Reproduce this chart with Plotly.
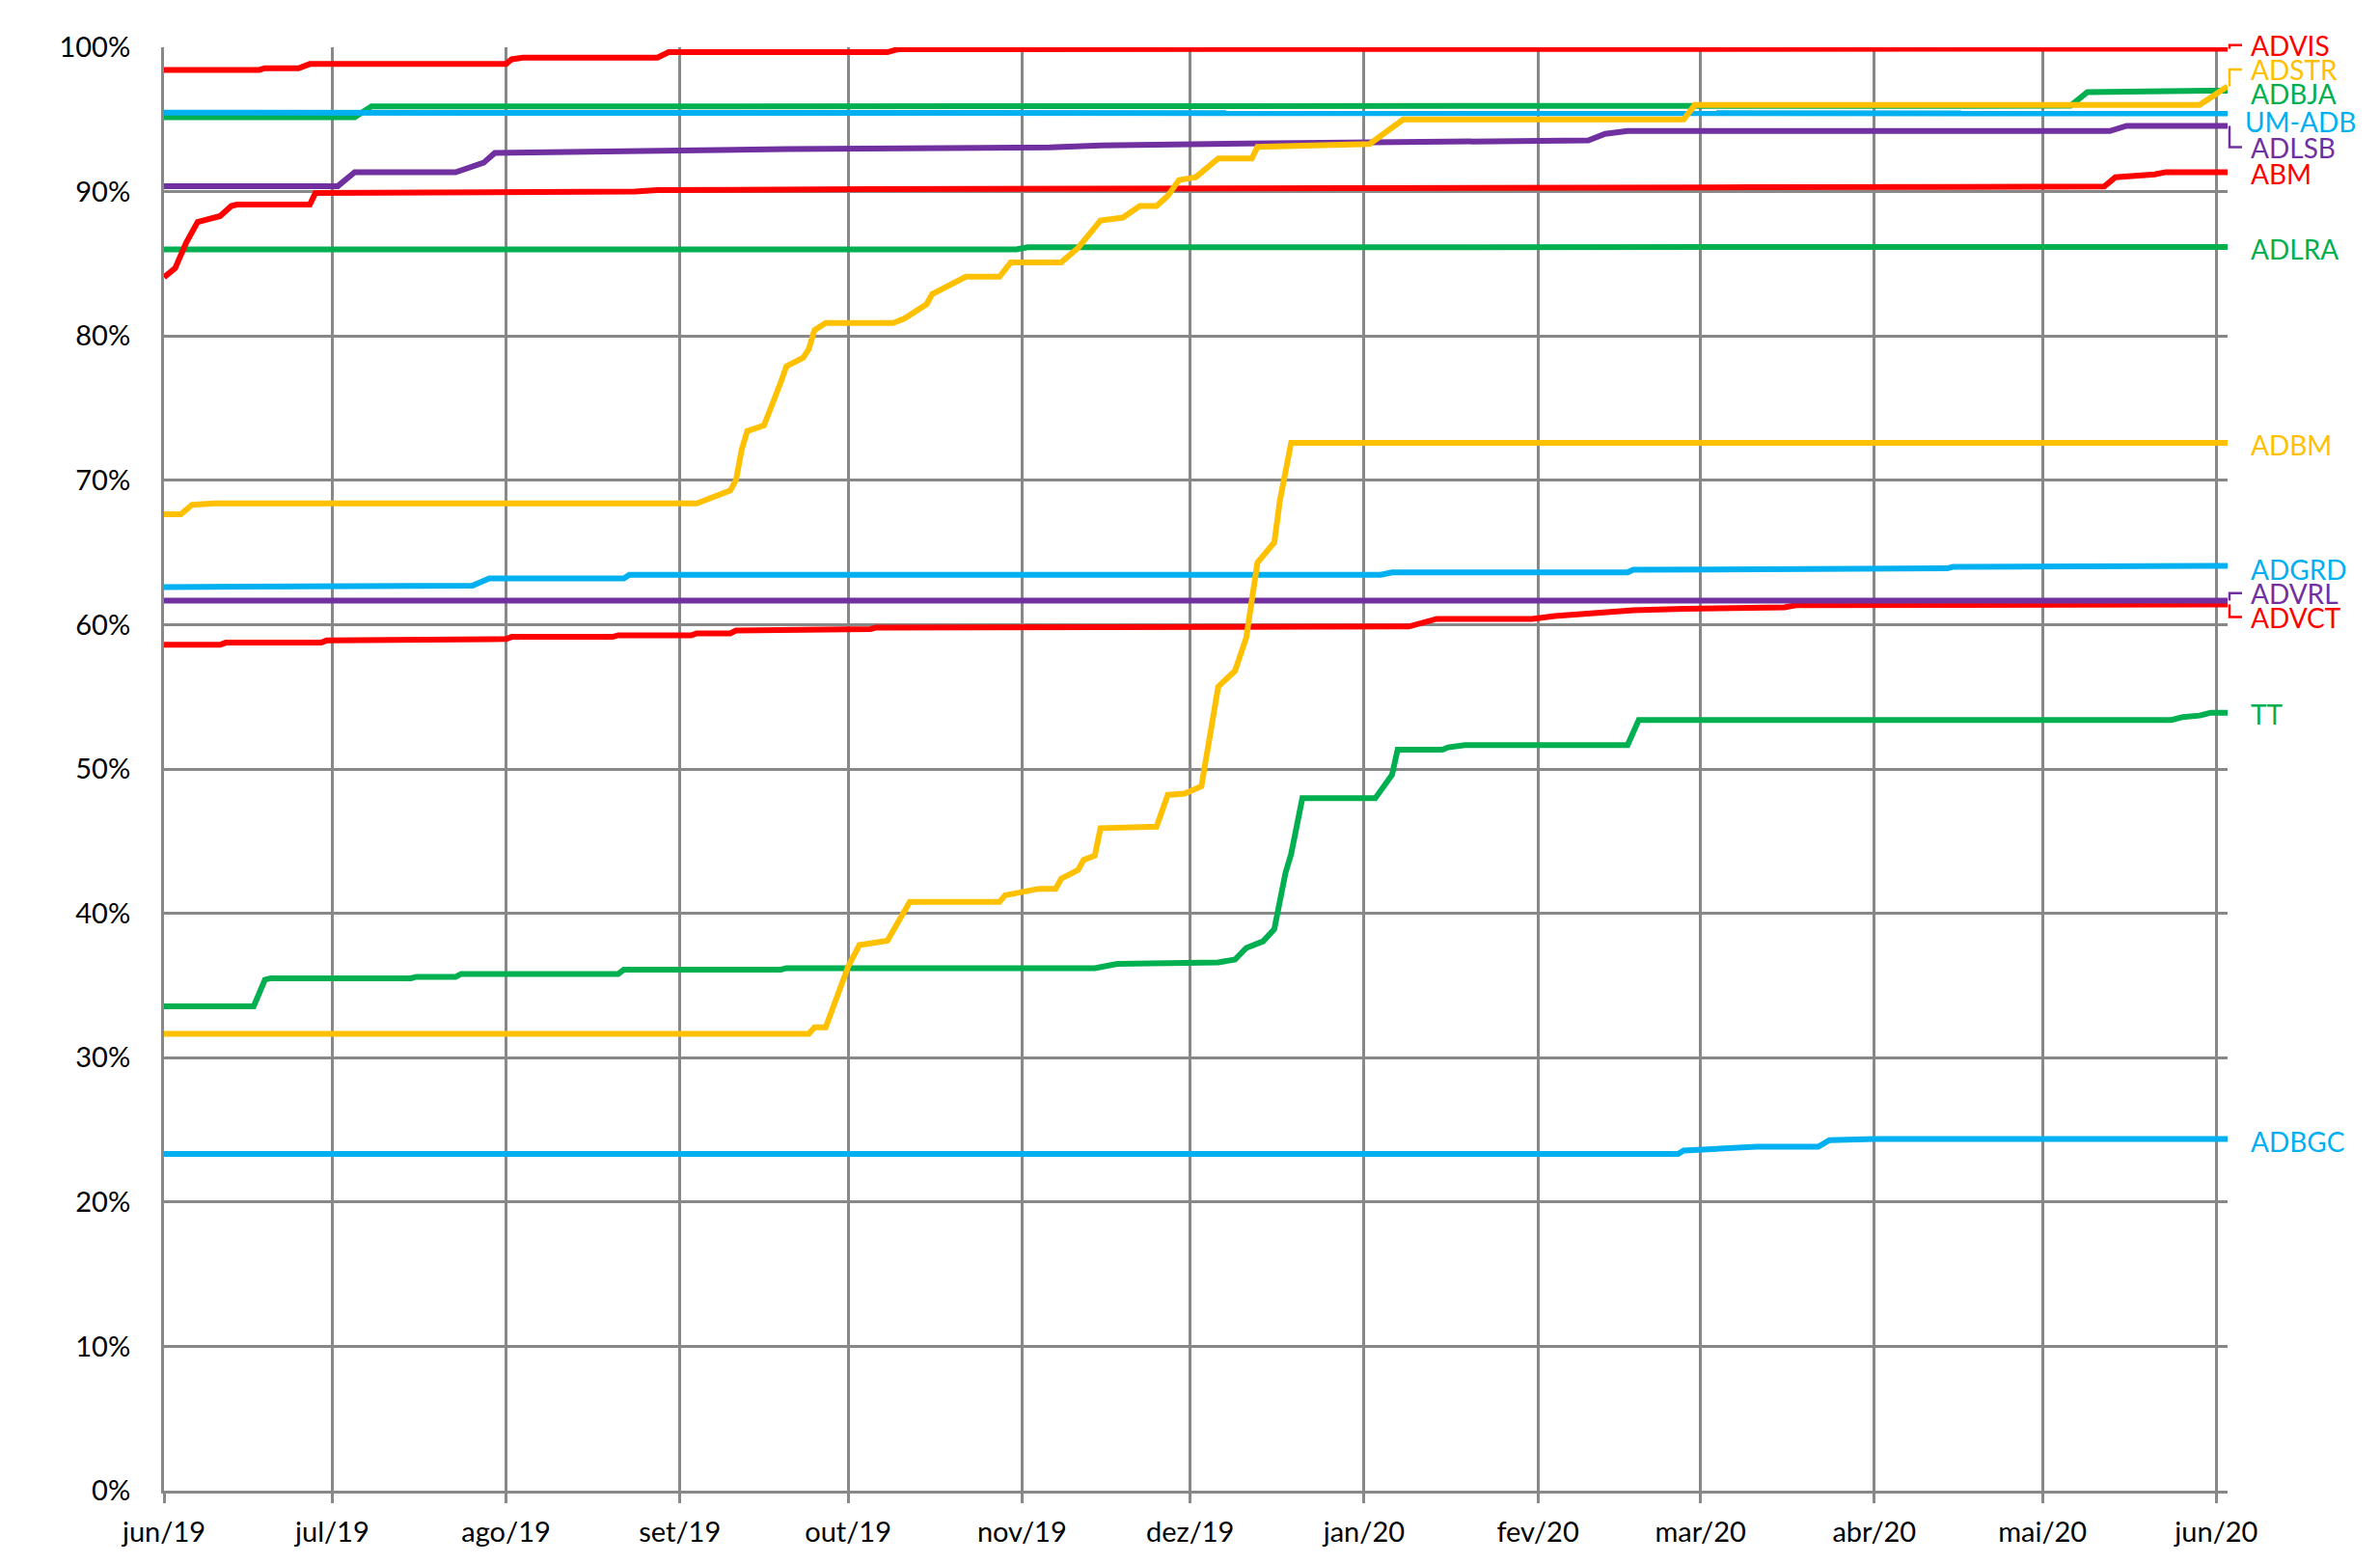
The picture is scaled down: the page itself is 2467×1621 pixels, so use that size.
import plotly.graph_objects as go

# --- data (percent), breakpoints ---
advis_x = ["2019-06-01", "2019-06-18", "2019-06-19", "2019-06-25", "2019-06-27", "2019-08-01",
           "2019-08-02", "2019-08-04", "2019-08-28", "2019-08-30", "2019-10-08", "2019-10-10",
           "2020-06-03"]
advis_y = [98.43, 98.43, 98.55, 98.55, 98.84, 98.84, 99.17, 99.28, 99.28, 99.66, 99.66, 99.87, 99.9]

adstr_x = ["2019-06-01", "2019-06-04", "2019-06-06", "2019-06-10", "2019-09-04", "2019-09-10",
           "2019-09-11", "2019-09-12", "2019-09-13", "2019-09-16", "2019-09-17", "2019-09-18",
           "2019-09-19", "2019-09-20", "2019-09-23", "2019-09-24", "2019-09-25", "2019-09-27",
           "2019-10-09", "2019-10-11", "2019-10-15", "2019-10-16", "2019-10-22", "2019-10-28",
           "2019-10-30", "2019-11-08", "2019-11-11", "2019-11-15", "2019-11-19", "2019-11-22",
           "2019-11-25", "2019-11-27", "2019-11-29", "2019-12-02", "2019-12-06", "2019-12-12",
           "2019-12-13", "2020-01-02", "2020-01-05", "2020-01-08", "2020-02-27", "2020-02-29",
           "2020-05-29", "2020-06-03"]
adstr_y = [67.65, 67.65, 68.3, 68.4, 68.4, 69.3,
           70.0, 72.1, 73.4, 73.8, 74.8, 75.7,
           76.8, 77.9, 78.5, 79.1, 80.4, 80.9,
           80.9, 81.2, 82.2, 82.9, 84.1, 84.1,
           85.1, 85.1, 86.1, 88.0, 88.2, 89.0,
           89.0, 89.7, 90.8, 91.0, 92.3, 92.3,
           93.1, 93.3, 94.1, 95.0, 95.0, 96.0,
           96.0, 97.3]

adbja_x = ["2019-06-01", "2019-07-05", "2019-07-08", "2020-05-06", "2020-05-09", "2020-05-31",
           "2020-06-03"]
adbja_y = [95.15, 95.15, 95.9, 95.95, 96.9, 96.9, 97.0]

umadb_x = ["2019-06-01", "2020-06-03"]
umadb_y = [95.47, 95.42]

adlsb_x = ["2019-06-01", "2019-07-02", "2019-07-05", "2019-07-23", "2019-07-28", "2019-07-30",
           "2019-08-22", "2019-09-20", "2019-11-06", "2019-11-15", "2019-12-11", "2020-01-02",
           "2020-02-10", "2020-02-13", "2020-02-17", "2020-05-13", "2020-05-16", "2020-06-03"]
adlsb_y = [90.38, 90.38, 91.34, 91.34, 92.0, 92.68,
           92.8, 92.95, 93.06, 93.2, 93.33, 93.44,
           93.55, 94.0, 94.2, 94.2, 94.56, 94.56]

abm_x = ["2019-06-01", "2019-06-03", "2019-06-04", "2019-06-05", "2019-06-07", "2019-06-11",
         "2019-06-13", "2019-06-14", "2019-06-27", "2019-06-28", "2019-08-24", "2019-08-28",
         "2019-10-05", "2019-11-26", "2020-03-10", "2020-05-12", "2020-05-14", "2020-05-21",
         "2020-05-23", "2020-06-03"]
abm_y = [84.07, 84.7, 85.6, 86.5, 87.9, 88.3,
         89.0, 89.1, 89.1, 89.9, 90.0, 90.1,
         90.18, 90.25, 90.3, 90.35, 91.0, 91.2,
         91.35, 91.35]

adlra_x = ["2019-06-01", "2019-10-31", "2019-11-02", "2020-06-03"]
adlra_y = [86.0, 86.0, 86.15, 86.16]

adbm_x = ["2019-06-01", "2019-09-24", "2019-09-25", "2019-09-27", "2019-10-01", "2019-10-03",
          "2019-10-08", "2019-10-12", "2019-10-28", "2019-10-29", "2019-11-04", "2019-11-07",
          "2019-11-08", "2019-11-11", "2019-11-12", "2019-11-14", "2019-11-15", "2019-11-21",
          "2019-11-25", "2019-11-27", "2019-11-30", "2019-12-03", "2019-12-04", "2019-12-06",
          "2019-12-09", "2019-12-11", "2019-12-13", "2019-12-16", "2019-12-17", "2019-12-19",
          "2020-06-03"]
adbm_y = [31.65, 31.65, 32.1, 32.1, 36.3, 37.8,
          38.1, 40.8, 40.8, 41.25, 41.7, 41.7,
          42.4, 43.0, 43.7, 44.0, 45.9, 45.9,
          46.0, 48.2, 48.3, 48.8, 51.0, 55.7,
          56.8, 59.1, 64.3, 65.7, 68.6, 72.6,
          72.6]

adgrd_x = ["2019-06-01", "2019-06-18", "2019-06-19", "2019-07-26", "2019-07-29", "2019-08-22",
           "2019-08-23", "2020-01-04", "2020-01-06", "2020-02-17", "2020-02-18", "2020-03-18",
           "2020-03-19", "2020-04-14", "2020-04-15", "2020-05-12", "2020-05-13", "2020-06-03"]
adgrd_y = [62.6, 62.6, 62.7, 62.7, 63.2, 63.2,
           63.45, 63.45, 63.62, 63.62, 63.8, 63.8,
           63.9, 63.9, 64.0, 64.0, 64.07, 64.07]

advrl_x = ["2019-06-01", "2020-06-03"]
advrl_y = [61.66, 61.66]

advct_x = ["2019-06-01", "2019-06-11", "2019-06-12", "2019-06-29", "2019-06-30", "2019-07-09",
           "2019-07-10", "2019-08-01", "2019-08-02", "2019-08-20", "2019-08-21", "2019-09-03",
           "2019-09-04", "2019-09-10", "2019-09-11", "2019-09-23", "2019-09-24", "2019-10-05",
           "2019-10-06", "2019-10-16", "2019-10-17", "2020-01-09", "2020-01-14", "2020-01-31",
           "2020-02-04", "2020-02-12", "2020-02-18", "2020-02-27", "2020-03-16", "2020-03-18",
           "2020-06-03"]
advct_y = [58.6, 58.6, 58.75, 58.75, 58.9, 58.9,
           59.0, 59.0, 59.15, 59.15, 59.26, 59.26,
           59.4, 59.4, 59.6, 59.6, 59.7, 59.7,
           59.8, 59.8, 59.87, 59.87, 60.4, 60.4,
           60.6, 60.8, 61.0, 61.1, 61.2, 61.35,
           61.4]

tt_x = ["2019-06-01", "2019-06-17", "2019-06-19", "2019-06-20", "2019-07-15", "2019-07-16",
        "2019-07-23", "2019-07-24", "2019-08-21", "2019-08-22", "2019-09-19", "2019-09-20",
        "2019-11-14", "2019-11-18", "2019-12-06", "2019-12-09", "2019-12-11", "2019-12-14",
        "2019-12-16", "2019-12-18", "2019-12-19", "2019-12-21", "2020-01-03", "2020-01-06",
        "2020-01-07", "2020-01-15", "2020-01-16", "2020-01-19", "2020-02-17", "2020-02-19",
        "2020-05-24", "2020-05-26", "2020-05-29", "2020-05-31", "2020-06-03"]
tt_y = [33.56, 33.56, 35.4, 35.5, 35.5, 35.6,
        35.6, 35.8, 35.8, 36.1, 36.1, 36.2,
        36.2, 36.5, 36.6, 36.8, 37.6, 38.06,
        38.9, 42.8, 44.1, 47.97, 47.97, 49.6,
        51.34, 51.34, 51.5, 51.65, 51.65, 53.4,
        53.4, 53.6, 53.7, 53.9, 53.9]

adbgc_x = ["2019-06-01", "2020-02-26", "2020-02-27", "2020-03-03", "2020-03-11", "2020-03-22",
           "2020-03-24", "2020-04-01", "2020-06-03"]
adbgc_y = [23.33, 23.33, 23.56, 23.67, 23.83, 23.83, 24.28, 24.36, 24.36]

month_ticks = ["2019-06-01", "2019-07-01", "2019-08-01", "2019-09-01", "2019-10-01", "2019-11-01",
               "2019-12-01", "2020-01-01", "2020-02-01", "2020-03-01", "2020-04-01", "2020-05-01",
               "2020-06-01"]
month_labels = ["jun/19", "jul/19", "ago/19", "set/19", "out/19", "nov/19", "dez/19",
                "jan/20", "fev/20", "mar/20", "abr/20", "mai/20", "jun/20"]
pct_ticks = [0, 10, 20, 30, 40, 50, 60, 70, 80, 90, 100]
pct_labels = ["0%", "10%", "20%", "30%", "40%", "50%", "60%", "70%", "80%", "90%", "100%"]

RED, YEL, GRN, CYA, PUR = "#FF0000", "#FFC000", "#00B050", "#00B0F0", "#7030A0"

# name, colour, x, y, label y, leader line?  (draw order = list order)
series = [
    ("ADVCT", RED, advct_x, advct_y, 60.52, True),
    ("ADVRL", PUR, advrl_x, advrl_y, 62.19, True),
    ("ADBGC", CYA, adbgc_x, adbgc_y, 24.18, False),
    ("ADGRD", CYA, adgrd_x, adgrd_y, 63.86, False),
    ("TT", GRN, tt_x, tt_y, 53.84, False),
    ("ADLRA", GRN, adlra_x, adlra_y, 86.0, False),
    ("ABM", RED, abm_x, abm_y, 91.25, False),
    ("ADLSB", PUR, adlsb_x, adlsb_y, 93.08, True),
    ("ADBJA", GRN, adbja_x, adbja_y, 96.76, False),
    ("UM-ADB", CYA, umadb_x, umadb_y, 94.86, False),
    ("ADVIS", RED, advis_x, advis_y, 100.15, True),
    ("ADBM", YEL, adbm_x, adbm_y, 72.43, False),
    ("ADSTR", YEL, adstr_x, adstr_y, 98.47, True),
]

FONT = "Lato"
# page body has an 8px margin, so the figure is a bit smaller than the window
W, H = 2451, 1605
ML, MR, MT, MB = 162, 150, 41, 68
plot_w = W - ML - MR

fig = go.Figure()
annotations = []
shapes = []
for name, col, xs, ys, lab_y, leader in series:
    fig.add_trace(go.Scatter(x=xs, y=ys, mode="lines", name=name,
                             line=dict(color=col, width=6)))
    shift = 16 if name == "UM-ADB" else 22
    annotations.append(dict(xref="paper", yref="paper", x=1, y=lab_y / 100, xshift=shift,
                            xanchor="left", yanchor="middle", showarrow=False, text=name,
                            font=dict(family=FONT, size=28, color=col)))
    if leader:
        x0 = 1 + 2 / plot_w
        x1 = 1 + 15 / plot_w
        y0 = ys[-1] / 100
        y1 = lab_y / 100
        shapes.append(dict(type="path", xref="paper", yref="paper",
                           path=f"M {x0},{y0} L {x0},{y1} L {x1},{y1}",
                           line=dict(color=col, width=2.5)))

fig.update_layout(
    width=W, height=H,
    margin=dict(l=ML, r=MR, t=MT, b=MB, autoexpand=False),
    paper_bgcolor="white", plot_bgcolor="white",
    showlegend=False,
    font=dict(family=FONT, size=29, color="black"),
    annotations=annotations,
    shapes=shapes,
)
fig.update_xaxes(
    type="date", range=["2019-06-01", "2020-06-03"],
    tickvals=month_ticks, ticktext=month_labels,
    showgrid=True, gridcolor="#888888", gridwidth=3,
    showline=True, linecolor="#888888", linewidth=3,
    ticks="outside", ticklen=10, tickwidth=3, tickcolor="#888888",
    ticklabelstandoff=5, zeroline=False, automargin=False,
)
fig.update_yaxes(
    range=[0, 100], tickvals=pct_ticks, ticktext=pct_labels,
    showgrid=True, gridcolor="#888888", gridwidth=3,
    showline=True, linecolor="#888888", linewidth=3,
    ticks="outside", ticklen=6, tickcolor="rgba(0,0,0,0)", ticklabelstandoff=20,
    zeroline=False, automargin=False,
)

fig.write_html("out.html")
